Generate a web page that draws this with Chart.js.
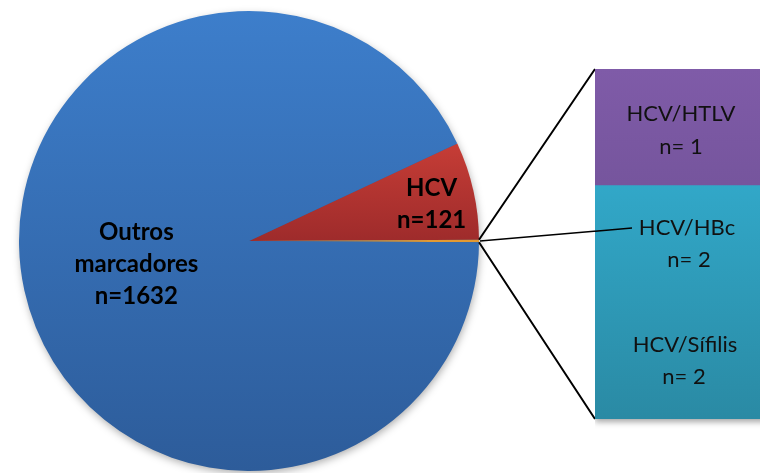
<!DOCTYPE html>
<html>
<head>
<meta charset="utf-8">
<script src="https://cdn.jsdelivr.net/npm/chart.js@4"></script>
<style>
  html, body { margin: 0; padding: 0; background: #fff; overflow: hidden; }
  #wrap { position: relative; width: 760px; height: 473px; overflow: hidden; }
  #pieChart { position: absolute; left: 0; top: 0; }
  #barChart { position: absolute; left: 595px; top: 69px; }
</style>
</head>
<body>
<div id="wrap">
  <canvas id="pieChart" width="760" height="473"></canvas>
  <canvas id="barChart" width="176" height="362"></canvas>
</div>
<script>
// coinfecções HCV (segunda plotagem)
const barLabels = ['HCV/HTLV', 'HCV/HBc'];
const barValues = [1, 2];
const barColors = [['#7f5ba8', '#634987'], ['#35b6da', '#2a8aa4']];
const extraNote = ['HCV/Sífilis', 'n= 2'];

// pizza principal
const pieLabels = ['HCV', 'Coinfecções', 'Outros marcadores'];
const pieValues = [121, barValues[0] + barValues[1], 1632];
const pieText = [['HCV', 'n=121'], null, ['Outros', 'marcadores', 'n=1632']];

const total = pieValues.reduce((a, b) => a + b, 0);
// fatia das coinfecções centrada no horizontal à direita
const startDeg = (pieValues[0] + pieValues[1] / 2) / total * 360;

// ponta do rótulo HBc dentro da barra (coordenadas do canvas da barra)
const leaderEnd = [37, 159];

function pieGeom(chart) {
    const a = chart.chartArea;
    return {
        cx: (a.left + a.right) / 2,
        cy: (a.top + a.bottom) / 2,
        r: Math.min(a.right - a.left, a.bottom - a.top) / 2
    };
}

function pieFill(context) {
    const chart = context.chart;
    if (!chart.chartArea) return '#3a78c3';
    const g = pieGeom(chart);
    const c = chart.ctx;
    let grad;
    if (context.dataIndex === 0) {
        const top = g.cy - g.r * Math.sin(startDeg * Math.PI / 180);
        grad = c.createLinearGradient(0, top, 0, g.cy);
        grad.addColorStop(0, '#c63d36');
        grad.addColorStop(1, '#9e2b2b');
        return grad;
    }
    if (context.dataIndex === 1) return '#e39a32';
    grad = c.createLinearGradient(0, g.cy - g.r, 0, g.cy + g.r);
    grad.addColorStop(0, '#3d7ecb');
    grad.addColorStop(1, '#2d5c9a');
    return grad;
}

// ponto de saída das linhas (borda da fatia laranja)
function sliceEdge(o) {
    return {
        p1: [o.x + Math.cos(o.startAngle) * o.outerRadius, o.y + Math.sin(o.startAngle) * o.outerRadius],
        p2: [o.x + Math.cos(o.endAngle) * o.outerRadius, o.y + Math.sin(o.endAngle) * o.outerRadius]
    };
}

// sombra do disco + rótulos + linhas de ligação
const piePlugin = {
    id: 'piePlugin',
    beforeDatasetsDraw(chart) {
        const g = pieGeom(chart);
        const c = chart.ctx;
        c.save();
        c.shadowColor = 'rgba(0,0,0,0.35)';
        c.shadowBlur = 8;
        c.shadowOffsetY = 3;
        c.shadowOffsetX = 1;
        c.beginPath();
        c.arc(g.cx, g.cy, g.r - 1, 0, Math.PI * 2);
        c.fillStyle = '#2d5c9a';
        c.fill();
        c.restore();
    },
    afterDatasetsDraw(chart) {
        const c = chart.ctx;
        const arcs = chart.getDatasetMeta(0).data;
        const place = [[0.81, 1.3], null, [0.50, 0.7]];
        c.save();
        c.fillStyle = '#000';
        c.font = 'bold 24px Lato';
        c.textAlign = 'center';
        c.textBaseline = 'middle';
        arcs.forEach((arc, i) => {
            if (!pieText[i]) return;
            const mid = (arc.startAngle + arc.endAngle) / 2 + place[i][1] * Math.PI / 180;
            const x = arc.x + Math.cos(mid) * arc.outerRadius * place[i][0];
            const y = arc.y + Math.sin(mid) * arc.outerRadius * place[i][0];
            const lines = pieText[i];
            lines.forEach((t, k) => {
                c.fillText(t, x, y + (k - (lines.length - 1) / 2) * 32);
            });
        });

        // linhas até a barra
        const e = sliceEdge(arcs[1]);
        const barBox = document.getElementById('barChart');
        const bx = barBox.offsetLeft;
        const by = barBox.offsetTop;
        const bh = barChart.chartArea ? barChart.chartArea.bottom : 350;
        c.strokeStyle = '#000';
        c.lineWidth = 2;
        c.beginPath();
        c.moveTo(e.p1[0], e.p1[1]);
        c.lineTo(bx, by);
        c.moveTo(e.p2[0], e.p2[1]);
        c.lineTo(bx, by + bh);
        c.stroke();
        // linha guia do rótulo HCV/HBc
        c.lineWidth = 1.5;
        c.beginPath();
        c.moveTo(e.p1[0] + 1, (e.p1[1] + e.p2[1]) / 2);
        c.lineTo(bx + leaderEnd[0], by + leaderEnd[1]);
        c.stroke();
        c.restore();
    }
};

const barPlugin = {
    id: 'barPlugin',
    beforeDatasetsDraw(chart) {
        const c = chart.ctx;
        c.save();
        c.shadowColor = 'rgba(0,0,0,0.35)';
        c.shadowBlur = 6;
        c.shadowOffsetY = 3;
        c.fillStyle = '#fff';
        const a = chart.chartArea;
        c.fillRect(a.left, a.top, a.right - a.left, a.bottom - a.top);
        c.restore();
    },
    afterDatasetsDraw(chart) {
        const c = chart.ctx;
        c.save();
        // trecho da linha guia que passa por cima da barra
        if (typeof pieChart !== 'undefined') {
            const e = sliceEdge(pieChart.getDatasetMeta(0).data[1]);
            const box = chart.canvas;
            c.strokeStyle = '#000';
            c.lineWidth = 1.5;
            c.beginPath();
            c.moveTo(e.p1[0] + 1 - box.offsetLeft, (e.p1[1] + e.p2[1]) / 2 - box.offsetTop);
            c.lineTo(leaderEnd[0], leaderEnd[1]);
            c.stroke();
        }
        c.fillStyle = '#111';
        c.font = '22px Lato';
        c.textAlign = 'center';
        c.textBaseline = 'middle';
        const cx = (chart.chartArea.left + chart.chartArea.right) / 2;
        // HTLV (topo)
        const top = chart.getDatasetMeta(1).data[0];
        const tMid = (top.y + top.base) / 2;
        c.fillText(barLabels[0], cx - 2, tMid - 13);
        c.fillText('n= ' + barValues[0], cx - 2, tMid + 20);
        // segmento ciano: HBc na metade de cima, Sífilis na de baixo
        const seg = chart.getDatasetMeta(0).data[0];
        const h = seg.base - seg.y;
        const q1 = seg.y + h / 4;
        const q3 = seg.y + h * 3 / 4;
        c.fillText(barLabels[1], cx + 4, q1 - 16);
        c.fillText('n= ' + barValues[1], cx + 6, q1 + 16);
        c.fillText(extraNote[0], cx + 2, q3 - 16);
        c.fillText(extraNote[1], cx + 1, q3 + 16);
        c.restore();
    }
};

function barFill(idx) {
    return function(context) {
        const chart = context.chart;
        const a = chart.chartArea;
        if (!a) return barColors[idx][0];
        const meta = chart.getDatasetMeta(context.datasetIndex);
        const el = meta.data[0];
        const y0 = el && el.y !== undefined ? Math.min(el.y, el.base) : a.top;
        const y1 = el && el.base !== undefined ? Math.max(el.y, el.base) : a.bottom;
        const grad = chart.ctx.createLinearGradient(0, y0, 0, y1);
        grad.addColorStop(0, barColors[idx][0]);
        grad.addColorStop(1, barColors[idx][1]);
        return grad;
    };
}

var barChart = new Chart(document.getElementById('barChart').getContext('2d'), {
    type: 'bar',
    data: {
        labels: ['coinfecções'],
        datasets: [
            { label: barLabels[1], data: [barValues[1]], backgroundColor: barFill(1), borderWidth: 0 },
            { label: barLabels[0], data: [barValues[0]], backgroundColor: barFill(0), borderWidth: 0 }
        ]
    },
    options: {
        responsive: false,
        animation: false,
        layout: { padding: { bottom: 12 } },
        datasets: { bar: { barPercentage: 1, categoryPercentage: 1 } },
        scales: {
            x: { stacked: true, display: false },
            y: { stacked: true, display: false, min: 0, max: barValues[0] + barValues[1] }
        },
        plugins: { legend: { display: false }, tooltip: { enabled: false } }
    },
    plugins: [barPlugin]
});

var pieChart = new Chart(document.getElementById('pieChart').getContext('2d'), {
    type: 'pie',
    data: {
        labels: pieLabels,
        datasets: [{
            data: pieValues,
            backgroundColor: pieFill,
            borderWidth: 0
        }]
    },
    options: {
        responsive: false,
        animation: false,
        rotation: 90 - startDeg,
        layout: { padding: { left: 19, right: 281, top: 11, bottom: 2 } },
        plugins: { legend: { display: false }, tooltip: { enabled: false } }
    },
    plugins: [piePlugin]
});

// a barra foi desenhada antes da pizza existir: redesenha para a linha guia
barChart.draw();
</script>
</body>
</html>
